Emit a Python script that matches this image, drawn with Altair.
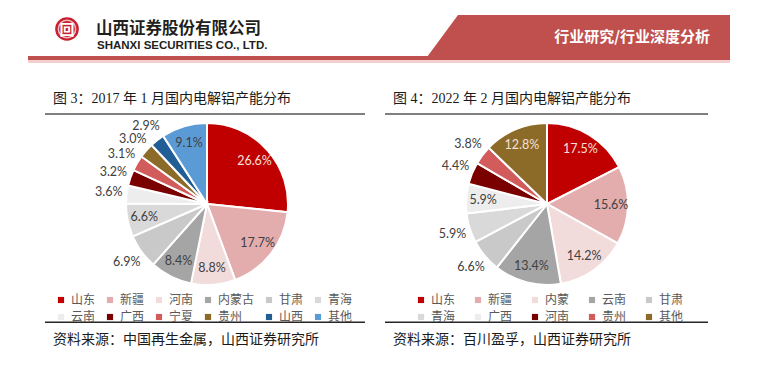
import altair as alt
import pandas as pd

# ---------------- data ----------------
left_regions = ["山东", "新疆", "河南", "内蒙古", "甘肃", "青海", "云南", "广西", "宁夏", "贵州", "山西", "其他"]
left_values = [26.6, 17.7, 8.8, 8.4, 6.9, 6.6, 3.6, 3.2, 3.1, 3.0, 2.9, 9.1]
left_colors = ["#C00000", "#E4ADAD", "#F2DCDB", "#A5A5A5", "#C9C9C9", "#D9D9D9",
               "#EDEDED", "#7A0000", "#D25C5C", "#8C6A28", "#215E96", "#5B9BD5"]
left_outside = ["甘肃", "云南", "广西", "宁夏", "贵州", "山西"]
left_light = ["山东"]

right_regions = ["山东", "新疆", "内蒙", "云南", "甘肃", "青海", "广西", "河南", "贵州", "其他"]
right_values = [17.5, 15.6, 14.2, 13.4, 6.6, 5.9, 5.9, 4.4, 3.8, 12.8]
right_colors = ["#C00000", "#E4ADAD", "#F2DCDB", "#A5A5A5", "#C9C9C9", "#D9D9D9",
                "#EDEDED", "#7A0000", "#D25C5C", "#8C6A28"]
right_outside = ["甘肃", "青海", "河南", "贵州"]
right_light = ["山东", "其他"]

title_left = "图 3：2017 年 1 月国内电解铝产能分布"
title_right = "图 4：2022 年 2 月国内电解铝产能分布"
source_left = "资料来源：中国再生金属，山西证券研究所"
source_right = "资料来源：百川盈孚，山西证券研究所"

W, H = 778, 376
CJK = "Noto Sans CJK SC"
LAB = "Lato"
ONE = pd.DataFrame({"k": [0]})

xs = alt.Scale(domain=[0, W], range=[0, W])
ys = alt.Scale(domain=[0, H], range=[0, H])


def txt(s, x, y, size=14, color="#1A1A1A", font=CJK, weight="normal", align="left"):
    return alt.Chart(ONE).mark_text(
        text=s, align=align, baseline="middle", fontSize=size, color=color,
        font=font, fontWeight=weight
    ).encode(x=alt.value(x), y=alt.value(y))


def rect(x1, x2, y1, y2, color):
    return alt.Chart(ONE).mark_rect(color=color).encode(
        x=alt.value(x1), x2=alt.value(x2), y=alt.value(y1), y2=alt.value(y2))


def pie(regions, values, colors, outside, light, cx, cy, lx, ly, colpad, cols, field):
    df = pd.DataFrame({field: regions, "value": values})
    df["idx"] = list(range(len(df)))
    df["label"] = [f"{v:.1f}%" for v in values]
    df["pos"] = ["out" if r in outside else "in" for r in regions]
    df["light"] = [1 if r in light else 0 for r in regions]
    base = alt.Chart(df).encode(
        theta=alt.Theta("value:Q", stack=True),
        order=alt.Order("idx:Q"),
        x=alt.value(cx), y=alt.value(cy),
    )
    arc = base.mark_arc(outerRadius=81, stroke="white", strokeWidth=2).encode(
        color=alt.Color(
            f"{field}:N",
            scale=alt.Scale(domain=regions, range=colors),
            sort=regions,
            legend=alt.Legend(
                orient="none", legendX=lx, legendY=ly, columns=cols, title=None,
                columnPadding=colpad, rowPadding=5, symbolType="square",
                symbolSize=38, symbolStrokeWidth=0, labelFont=CJK,
                labelFontSize=12, labelColor="#595959", labelOffset=4,
                padding=0, direction="horizontal",
            ),
        )
    )
    tin = base.transform_calculate(
        t="datum.pos == 'in' ? datum.label : ''"
    ).mark_text(radius=64, font=LAB, fontSize=12.5).encode(
        text="t:N",
        color=alt.condition("datum.light == 1", alt.value("#F4E0DA"), alt.value("#404040")),
    )
    tout = base.transform_calculate(
        t="datum.pos == 'out' ? datum.label : ''"
    ).mark_text(radius=99, font=LAB, fontSize=12.5, color="#404040").encode(text="t:N")
    return alt.layer(arc, tin, tout)


# ---------------- header ----------------
banner_df = pd.DataFrame({"x": [427, 458, 730], "y": [57, 15, 15], "y2": [57, 57, 57]})
banner = alt.Chart(banner_df).mark_area(color="#C0504D", orient="vertical").encode(
    x=alt.X("x:Q", scale=xs, axis=None),
    y=alt.Y("y:Q", scale=ys, axis=None),
    y2="y2:Q",
)
line_red = rect(28, 730, 56, 60, "#C0504D")
line_pink = rect(28, 730, 60, 63, "#F3CFCF")
logo = alt.Chart(ONE).mark_circle(size=560, color="#C8202F", opacity=1).encode(
    x=alt.value(67), y=alt.value(29))
logo_ring = alt.Chart(ONE).mark_point(size=300, color="white", strokeWidth=1.5, filled=False).encode(
    x=alt.value(67), y=alt.value(29))
logo_c = txt("回", 67, 30, size=15, color="white", weight="bold", align="center")
name_cn = txt("山西证券股份有限公司", 96, 29, size=16.5, color="#231F20", weight="bold")
name_en = txt("SHANXI SECURITIES CO., LTD.", 97, 45.5, size=11.5, color="#231F20",
              font="Liberation Sans", weight="bold")
banner_t = txt("行业研究/行业深度分析", 710, 37, size=15, color="white", weight="bold", align="right")

# ---------------- panel decor ----------------
TF = "Liberation Serif, " + CJK
t_left = txt(title_left, 53, 99, size=14, font=TF)
t_right = txt(title_right, 393, 99, size=14, font=TF)
u_left = rect(45, 365, 113, 115, "#7F7F7F")
u_right = rect(385, 708, 113, 115, "#7F7F7F")
b_left = rect(45, 365, 321.5, 323, "#262626")
b_right = rect(385, 708, 321.5, 323, "#262626")
s_left = txt(source_left, 53, 340, size=14)
s_right = txt(source_right, 393, 340, size=14)

left_pie = pie(left_regions, left_values, left_colors, left_outside, left_light,
               207, 204, 55, 294, 8, 6, "region_l")
right_pie = pie(right_regions, right_values, right_colors, right_outside, right_light,
                547, 204, 415, 294, 16, 5, "region_r")

chart = alt.layer(
    banner, line_red, line_pink, logo, logo_ring, logo_c, name_cn, name_en, banner_t,
    t_left, t_right, u_left, u_right, b_left, b_right, s_left, s_right,
    left_pie, right_pie,
).resolve_scale(
    theta="independent", color="independent"
).properties(
    width=W, height=H, autosize=alt.AutoSizeParams(type="none"), padding=0,
    background="white",
).configure_view(stroke=None)

chart.save("out.html", embed_options={"renderer": "svg", "actions": False})
